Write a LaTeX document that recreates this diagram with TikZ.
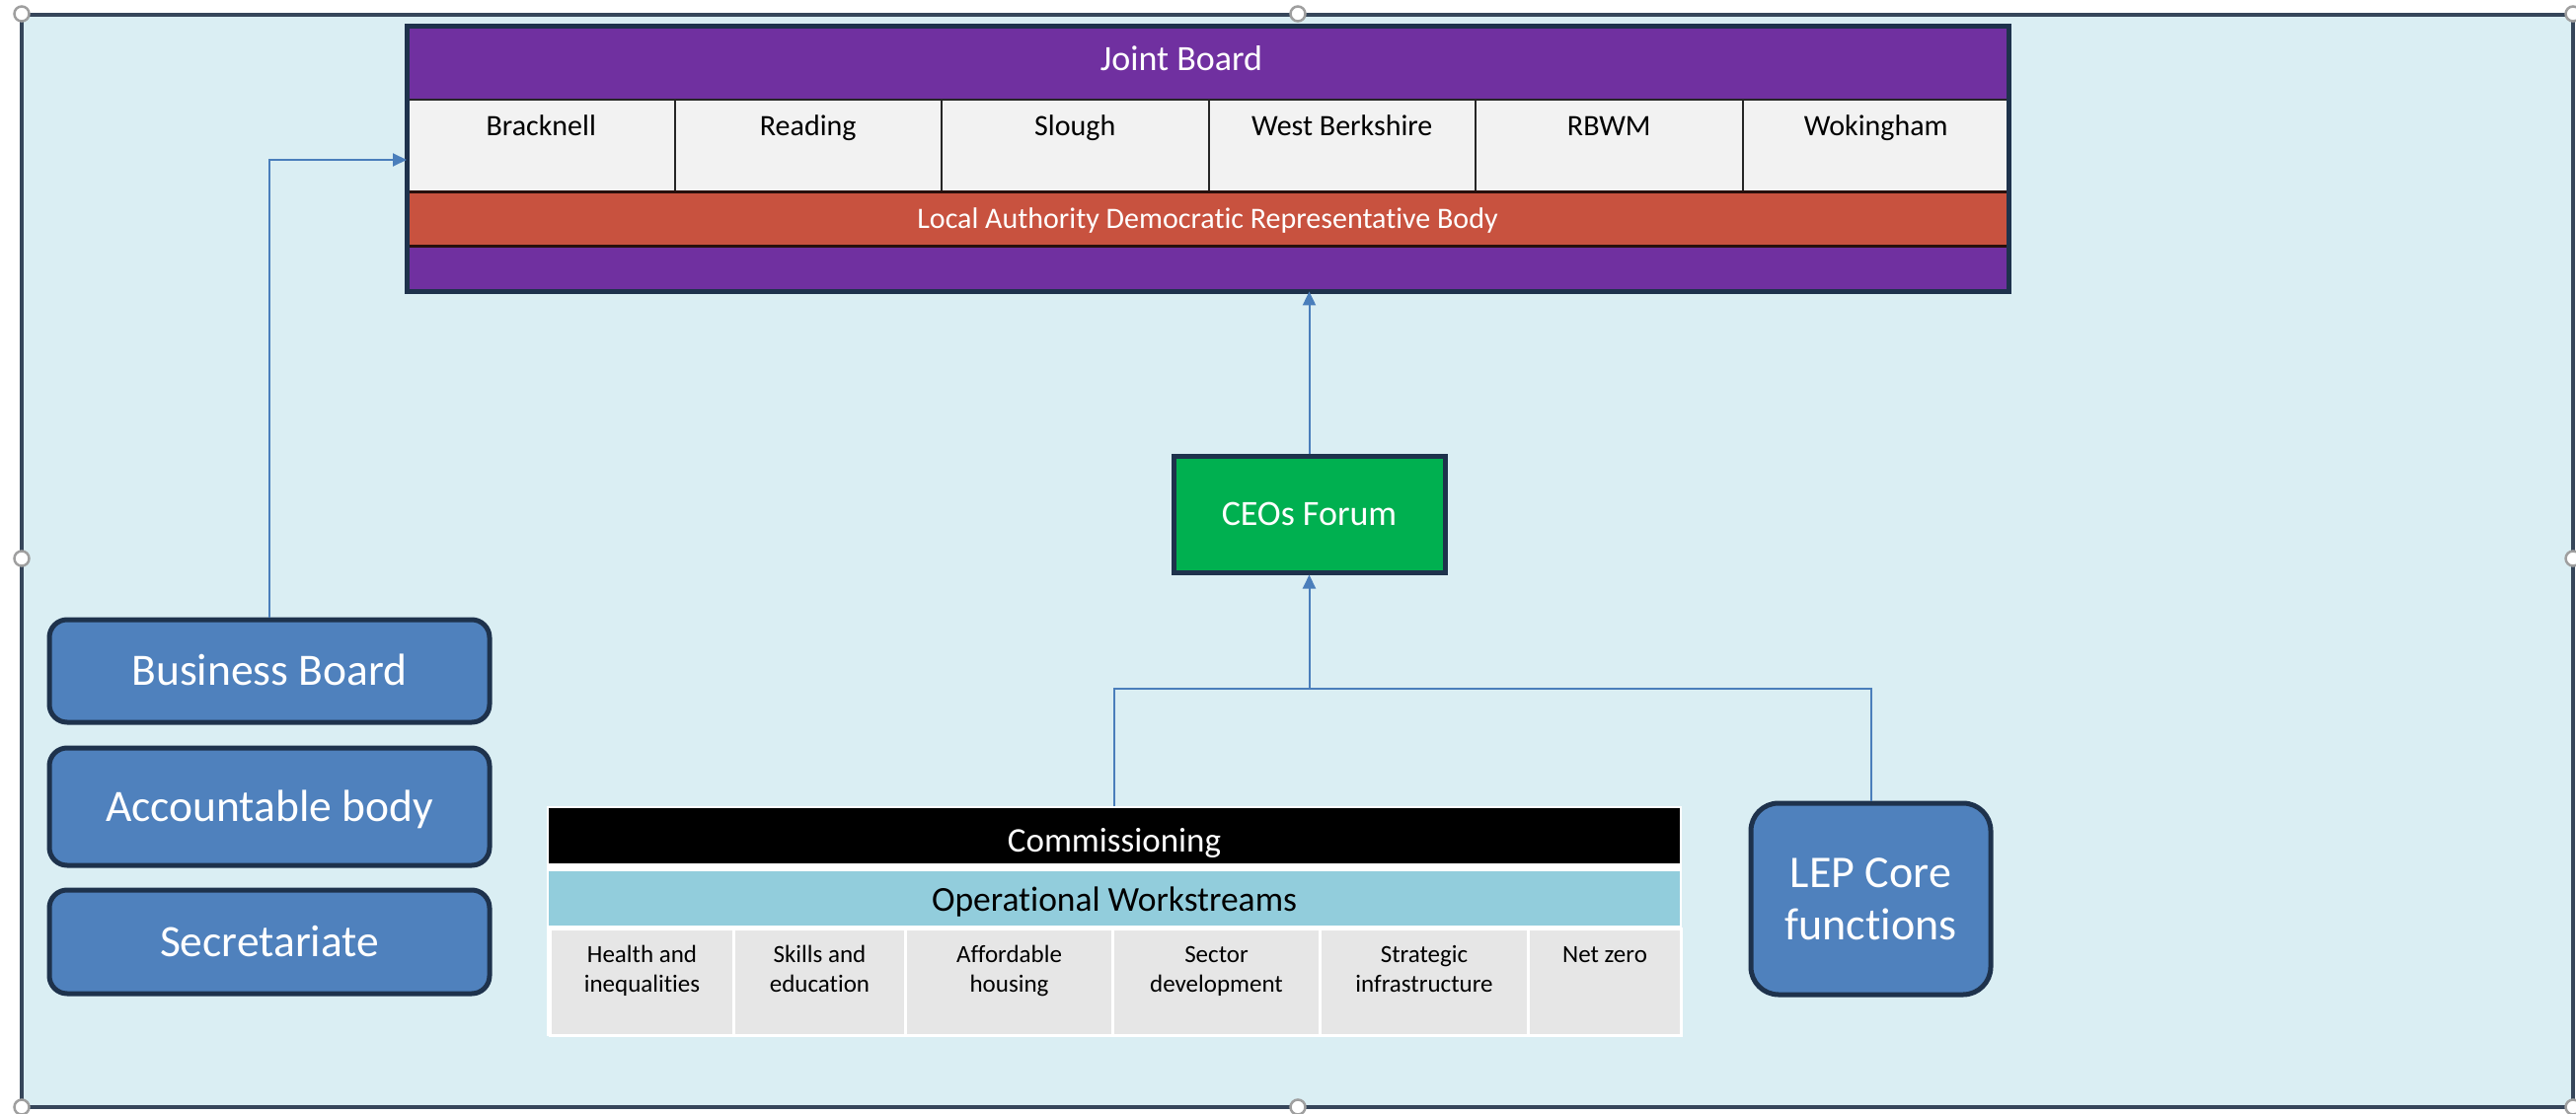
\documentclass[tikz,border=0pt]{standalone}
\usepackage{fontspec}
\setmainfont[Ligatures=NoCommon]{Carlito}
\usetikzlibrary{arrows.meta}
\definecolor{bgc}{HTML}{DAEEF3}
\definecolor{framec}{HTML}{36465A}
\definecolor{navy}{HTML}{1E324C}
\definecolor{purp}{HTML}{7030A0}
\definecolor{redb}{HTML}{C8523F}
\definecolor{cellw}{HTML}{F2F2F2}
\definecolor{greenb}{HTML}{00B050}
\definecolor{blueb}{HTML}{4F81BD}
\definecolor{lblue}{HTML}{92CDDC}
\definecolor{greyc}{HTML}{E6E6E6}
\definecolor{connc}{HTML}{4A7EBB}
\tikzset{
  conn/.style={draw=connc, line width=2pt},
  tip/.style={-{Triangle[length=14pt,width=13pt]}},
  handle/.style={circle, minimum size=15pt, inner sep=0pt, fill=white, draw=gray!75, line width=2.5pt},
  wcell/.style={rectangle, anchor=north west, minimum width=270.5pt, minimum height=93pt, inner sep=0pt, fill=cellw, draw=black!85, line width=2pt},
  wtext/.style={anchor=base, font=\fontsize{30}{36}\selectfont, text=black, inner sep=0pt},
  gcell/.style={rectangle, anchor=north west, minimum height=108pt, inner sep=0pt, fill=greyc, draw=white, line width=3pt},
  gtext/.style={anchor=center, align=center, font=\fontsize{25}{30}\selectfont, text=black, inner sep=0pt},
  bluebox/.style={rectangle, rounded corners=18pt, fill=blueb, draw=navy, line width=5pt, text=white, font=\fontsize{45.5}{52}\selectfont, minimum width=446pt, text height=29pt, text depth=0pt, inner sep=0pt},
}
\begin{document}
\begin{tikzpicture}[x=1pt,y=-1pt]
\useasboundingbox (0,0) rectangle (2610,1129);
\fill[white] (0,0) rectangle (2610,1129);
% frame
\draw[fill=bgc, draw=framec, line width=4pt] (22,15) rectangle (2607,1122);

% Joint Board
\node[rectangle, anchor=north west, minimum width=1623pt, minimum height=268pt, inner sep=0pt, fill=purp] (jb) at (412,27) {};
\node[anchor=base, text=white, font=\fontsize{36}{40}\selectfont, inner sep=0pt] (jbt) at (1197,71.5) {Joint Board};
\node[wcell] (c1) at (412,100) {};
\node[wcell] (c2) at (682.5,100) {};
\node[wcell] (c3) at (953,100) {};
\node[wcell] (c4) at (1223.5,100) {};
\node[wcell] (c5) at (1494,100) {};
\node[wcell] (c6) at (1764.5,100) {};
\node[wtext] (c1t) at (c1.north |- 0,137.5) {Bracknell};
\node[wtext] (c2t) at (c2.north |- 0,137.5) {Reading};
\node[wtext] (c3t) at (c3.north |- 0,137.5) {Slough};
\node[wtext] (c4t) at (c4.north |- 0,137.5) {West Berkshire};
\node[wtext] (c5t) at (c5.north |- 0,137.5) {RBWM};
\node[wtext] (c6t) at (c6.north |- 0,137.5) {Wokingham};
\node[rectangle, anchor=north west, minimum width=1623pt, minimum height=55pt, inner sep=0pt, fill=redb, draw=black!80!redb, line width=2.5pt] (la) at (412,193) {};
\node[anchor=base, text=white, font=\fontsize{30}{34}\selectfont, inner sep=0pt] (lat) at (1223.5,231) {Local Authority Democratic Representative Body};
\draw[draw=navy, line width=5pt] (jb.north west) rectangle (jb.south east);

% CEOs Forum
\node[rectangle, fill=greenb, draw=navy, line width=5pt, minimum width=275pt, minimum height=118pt, inner sep=0pt, text=white, font=\fontsize{36}{40}\selectfont] (ceo) at (1326.5,521) {CEOs Forum};

% left boxes
\node[bluebox, minimum height=104pt] (bb) at (273,680) {Business Board};
\node[bluebox, minimum height=119pt] (ab) at (273,817.5) {Accountable body};
\node[bluebox, minimum height=105pt] (sec) at (273,954.5) {Secretariate};

% LEP
\node[rectangle, rounded corners=28pt, fill=blueb, draw=navy, line width=5pt, minimum width=243pt, minimum height=194pt, inner sep=0pt, text=white, align=center, font=\fontsize{46}{53}\selectfont] (lep) at (1895.5,911) {LEP Core\\functions};

% Commissioning table
\node[rectangle, anchor=north west, minimum width=1150pt, minimum height=233pt, inner sep=0pt, fill=white] (tbl) at (554,817) {};
\node[rectangle, anchor=north west, minimum width=1146pt, minimum height=56pt, inner sep=0pt, fill=black] (comm) at (556,819) {};
\node[anchor=base, text=white, font=\fontsize{35}{40}\selectfont, inner sep=0pt] (commt) at (1129,863) {Commissioning};
\node[rectangle, anchor=north west, minimum width=1146pt, minimum height=55pt, inner sep=0pt, fill=lblue] (ops) at (556,883) {};
\node[anchor=base, text=black, font=\fontsize{35.5}{40}\selectfont, inner sep=0pt] (opst) at (1129,923) {Operational Workstreams};
\node[gcell, minimum width=186pt] (g1) at (556,940) {};
\node[gcell, minimum width=174pt] (g2) at (742,940) {};
\node[gcell, minimum width=210pt] (g3) at (916,940) {};
\node[gcell, minimum width=210pt] (g4) at (1126,940) {};
\node[gcell, minimum width=211pt] (g5) at (1336,940) {};
\node[gcell, minimum width=155pt] (g6) at (1547,940) {};
\node[gtext] (g1t) at (g1.north |- 0,984) {\strut Health and\\\strut inequalities};
\node[gtext] (g2t) at (g2.north |- 0,984) {\strut Skills and\\\strut education};
\node[gtext] (g3t) at (g3.north |- 0,984) {\strut Affordable\\\strut housing};
\node[gtext] (g4t) at (g4.north |- 0,984) {\strut Sector\\\strut development};
\node[gtext] (g5t) at (g5.north |- 0,984) {\strut Strategic\\\strut infrastructure};
\node[gtext, anchor=base] (g6t) at (g6.north |- 0,975) {Net zero};

% connectors
\coordinate (jbin) at (412,162);
\coordinate (jy) at (0,698);
\coordinate (junc) at (ceo.south |- jy);
\draw[conn, tip] (bb.north) |- (jbin);
\draw[conn, tip] (ceo.north) -- (ceo.north |- jb.south);
\draw[conn, tip] (tbl.north) |- (junc) -- (ceo.south);
\draw[conn] (lep.north) |- (junc);

% selection handles
\node[handle] (h1) at (22,14) {};
\node[handle] (h2) at (1315,14) {};
\node[handle] (h3) at (2607,14) {};
\node[handle] (h4) at (22,566) {};
\node[handle] (h5) at (2607,566) {};
\node[handle] (h6) at (22,1122) {};
\node[handle] (h7) at (1315,1122) {};
\node[handle] (h8) at (2607,1122) {};
\end{tikzpicture}
\end{document}
